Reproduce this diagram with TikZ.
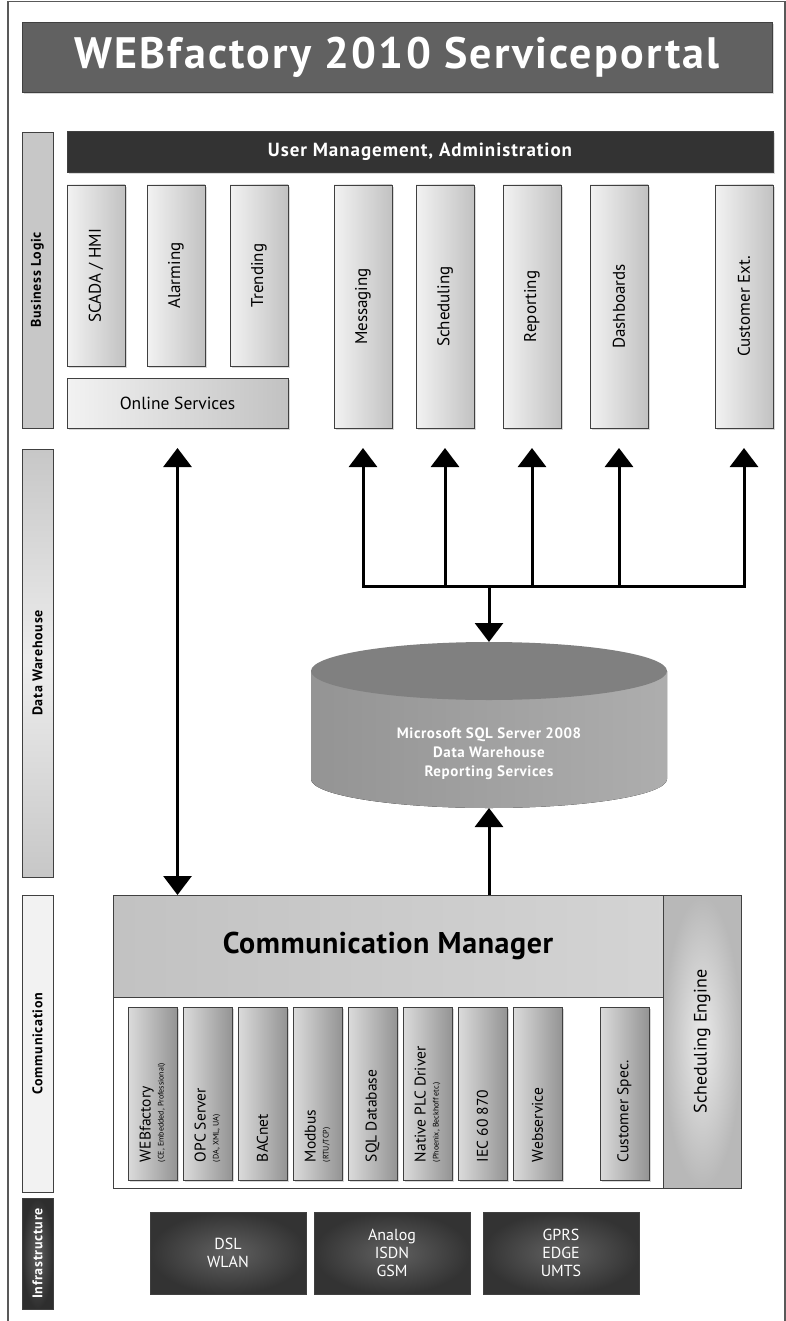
\documentclass[tikz,border=0pt]{standalone}
\usepackage{fontspec}
\setmainfont{PT Sans}
\usetikzlibrary{arrows.meta,positioning,shapes.geometric,shadows}

% rotated labels of the driver boxes, read from the bottom up
\newcommand{\drvtwo}[2]{\rotatebox{90}{\parbox{137pt}{\raggedright #1\\[-5pt]{\fontsize{8}{9}\selectfont #2}}}}
\newcommand{\drvone}[1]{\rotatebox{90}{\parbox{137pt}{\raggedright #1}}}

\begin{document}
\begin{tikzpicture}[
  x=1pt, y=1pt,
  node distance=6pt,
  base/.style={draw=black!75, line width=0.8pt, inner sep=0pt, outer sep=0pt, anchor=north west, align=center},
  layer/.style={base, minimum width=31pt, font=\fontsize{14}{16}\selectfont\bfseries\addfontfeatures{LetterSpace=5}},
  shade/.style={drop shadow={shadow xshift=2pt, shadow yshift=-2pt, opacity=0.3}},
  module/.style={base, shade, left color=black!5, right color=black!24, minimum width=58pt, font=\fontsize{17}{20}\selectfont},
  driver/.style={base, shade, left color=black!14, right color=black!42, minimum width=49pt, minimum height=173pt, font=\fontsize{15.5}{18}\selectfont},
  link/.style={base, inner color=black!62, outer color=black!80, minimum width=156pt, minimum height=82pt, text=white, font=\fontsize{16}{18}\selectfont},
  flow/.style={-{Triangle[width=28pt,length=19pt]}, line width=3pt},
  both/.style={{Triangle[width=28pt,length=19pt]}-{Triangle[width=28pt,length=19pt]}, line width=3pt}
]
\useasboundingbox (0,0) rectangle (786,-1321);
\draw[line width=1.2pt, black!65] (8,-1321) -- (8,-1.5) -- (785,-1.5) -- (785,-1321);

% title and top bar
\node[base, shade, fill=black!62, minimum width=750pt, minimum height=70pt, text=white, font=\fontsize{44}{50}\selectfont\bfseries\addfontfeatures{LetterSpace=5}] (title) at (22,-22) {WEBfactory 2010 Serviceportal};
\node[base, shade, fill=black!80, minimum width=706pt, minimum height=41pt, text=white, font=\fontsize{19}{22}\selectfont\bfseries\addfontfeatures{LetterSpace=5}] (users) at (67,-131) {User Management, Administration};

% layer bars on the left
\node[layer, fill=black!22, minimum height=296pt] (busl) at (22,-132) {\rotatebox{90}{Business Logic}};
\node[layer, top color=black!22, bottom color=black!22, middle color=black!7, minimum height=428pt] (dwh) at (22,-449) {\rotatebox{90}{Data Warehouse}};
\node[layer, fill=black!5, minimum height=297pt] (comm) at (22,-895) {\rotatebox{90}{Communication}};
\node[layer, inner color=black!62, outer color=black!82, minimum height=111pt, text=white] (infra) at (22,-1198) {\rotatebox{90}{Infrastructure}};

% business logic
\node[module, minimum height=181pt] (scada) at (67,-185) {\rotatebox{90}{SCADA / HMI}};
\node[module, minimum height=181pt] (alarm) at (147,-185) {\rotatebox{90}{Alarming}};
\node[module, minimum height=181pt] (trend) at (230,-185) {\rotatebox{90}{Trending}};
\node[module, minimum width=221pt, minimum height=50pt, font=\fontsize{17.5}{20}\selectfont] (online) at (67,-378) {Online Services};
\node[module, minimum height=243pt] (msg) at (334,-185) {\rotatebox{90}{Messaging}};
\node[module, minimum height=243pt] (sched) at (416,-185) {\rotatebox{90}{Scheduling}};
\node[module, minimum height=243pt] (rep) at (503,-185) {\rotatebox{90}{Reporting}};
\node[module, minimum height=243pt] (dash) at (590,-185) {\rotatebox{90}{Dashboards}};
\node[module, minimum height=243pt] (cext) at (715,-185) {\rotatebox{90}{Customer Ext.}};

% data warehouse
\node[minimum width=356pt, minimum height=166pt, inner sep=0pt, outer sep=0pt] (db) at (489,-725) {};
\fill[left color=black!42, middle color=black!52, right color=black!32] ([yshift=-29pt]db.north west) -- ([yshift=29pt]db.south west)
  arc[start angle=180, end angle=360, x radius=178pt, y radius=29pt] -- ([yshift=-29pt]db.north east) -- cycle;
\fill[black!50] ([yshift=-29pt]db.north) ellipse[x radius=178pt, y radius=29pt];
\node[text=white, align=center, font=\fontsize{15}{19}\selectfont\bfseries\addfontfeatures{LetterSpace=4}] (dblabel) at (489,-754) {Microsoft SQL Server 2008\\Data Warehouse\\Reporting Services};

% communication
\node[base, fill=white, minimum width=628pt, minimum height=293pt] (cmframe) at (113,-895) {};
\node[base, left color=black!24, right color=black!17, minimum width=550pt, minimum height=102pt, font=\fontsize{30}{34}\selectfont\bfseries\addfontfeatures{LetterSpace=2}] (cm) at (113,-895) {Communication Manager};
\node[base, inner color=black!8, outer color=black!28, minimum width=78pt, minimum height=293pt, font=\fontsize{18}{21}\selectfont] (engine) at (663,-895) {\rotatebox{90}{Scheduling Engine}};

\node[driver] (wf) at (128,-1007) {\drvtwo{WEBfactory}{(CE, Embedded, Professional)}};
\node[driver, right=of wf] (opc) {\drvtwo{OPC Server}{(DA, XML, UA)}};
\node[driver, right=of opc] (bac) {\drvone{BACnet}};
\node[driver, right=of bac] (modbus) {\drvtwo{Modbus}{(RTU/TCP)}};
\node[driver, right=of modbus] (sqldb) {\drvone{SQL Database}};
\node[driver, right=of sqldb] (plc) {\drvtwo{Native PLC Driver}{(Phoenix, Beckhoff etc.)}};
\node[driver, right=of plc] (iec) {\drvone{IEC 60 870}};
\node[driver, right=of iec] (web) {\drvone{Webservice}};
\node[driver] (cspec) at (600,-1007) {\drvone{Customer Spec.}};

% infrastructure
\node[link] (dsl) at (150,-1212) {DSL\\WLAN};
\node[link, right=8pt of dsl] (analog) {Analog\\ISDN\\GSM};
\node[link, right=13pt of analog] (gprs) {GPRS\\EDGE\\UMTS};

% connectors
\coordinate (hub) at (489,-586);
\draw[flow] (hub) -- (db.north);
\draw[flow, shorten >=20pt] (hub) -| (msg.south);
\draw[flow, shorten >=20pt] (hub) -| (sched.south);
\draw[flow, shorten >=20pt] (hub) -| (rep.south);
\draw[flow, shorten >=20pt] (hub) -| (dash.south);
\draw[flow, shorten >=20pt] (hub) -| (cext.south);
\draw[flow] (cm.north -| db.south) -- (db.south);
\draw[both, shorten <=20pt] (online.south) -- (online.south |- cm.north);
\end{tikzpicture}
\end{document}
